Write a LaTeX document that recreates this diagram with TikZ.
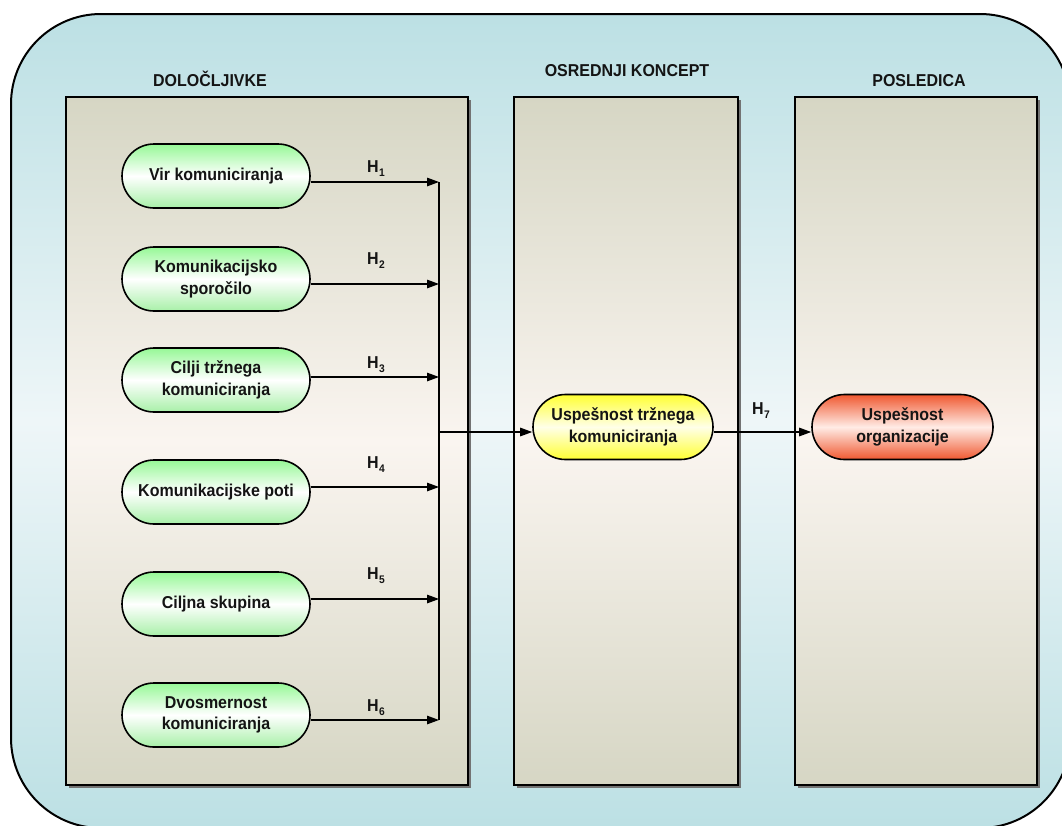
\documentclass[tikz,border=0pt]{standalone}
\usepackage{fontspec}
\setmainfont{Liberation Sans}[FakeStretch=0.93]
\usetikzlibrary{arrows.meta,shapes.misc}

\definecolor{outerEdge}{RGB}{188,224,228}
\definecolor{outerMid}{RGB}{238,246,248}
\definecolor{panelEdge}{RGB}{214,214,196}
\definecolor{panelMid}{RGB}{250,245,240}
\definecolor{greenEdge}{RGB}{150,248,150}
\definecolor{greenLow}{RGB}{168,240,168}
\definecolor{yellowEdge}{RGB}{255,255,50}
\definecolor{yellowMid}{RGB}{255,255,232}
\definecolor{redEdge}{RGB}{240,88,48}
\definecolor{redMid}{RGB}{255,236,230}
\definecolor{ink}{RGB}{20,20,20}

\newcommand\hsub[1]{\kern0.3pt\raisebox{-4pt}{\fontsize{11}{11}\selectfont #1}}

\tikzset{
  panelbox/.style={draw=black, line width=1.6, top color=panelEdge, bottom color=panelEdge, middle color=panelMid},
  panelshadow/.style={fill=black!55},
  pill/.style={rounded rectangle, draw=black, line width=1.6, inner sep=0pt,
    align=center, text=ink, font=\bfseries\fontsize{17.2}{21.5}\selectfont},
  greenpill/.style={pill, minimum width=188pt, minimum height=64pt,
    top color=greenEdge, bottom color=greenLow, middle color=white},
  yellowpill/.style={pill, minimum width=180pt, minimum height=65pt,
    top color=yellowEdge, bottom color=yellowEdge, middle color=yellowMid},
  redpill/.style={pill, minimum width=181pt, minimum height=65pt,
    top color=redEdge, bottom color=redEdge, middle color=redMid},
  header/.style={anchor=base, text=ink, inner sep=0pt, font=\bfseries\fontsize{17.2}{17.2}\selectfont},
  hlabel/.style={anchor=base west, text=ink, inner sep=0pt, font=\bfseries\fontsize{17.2}{17.2}\selectfont},
  arr/.style={line width=1.3, draw=black, -{Triangle[length=12pt,width=8.5pt]}},
  bus/.style={line width=1.3, draw=black}
}

\begin{document}
\begin{tikzpicture}[x=1pt,y=-1pt]
\useasboundingbox (0,0) rectangle (1062,825);

% outer rounded frame, running off the right and bottom edges
\begin{scope}
  \clip (0,0) rectangle (1062,825);
  \path[draw=black, line width=2, rounded corners=90,
        top color=outerEdge, bottom color=outerEdge, middle color=outerMid]
        (11,14) rectangle (1070,828);
\end{scope}

% three column panels with a small drop shadow
\fill[panelshadow] (68.5,99.5) rectangle (470.5,787.5);
\fill[panelshadow] (516.5,99.5) rectangle (740.5,787.5);
\fill[panelshadow] (797.5,99.5) rectangle (1039.5,787.5);
\path[panelbox] (66,97) rectangle (468,785);
\path[panelbox] (514,97) rectangle (738,785);
\path[panelbox] (795,97) rectangle (1037,785);

% column headers
\node[header] (hd1) at (210,86) {DOLOČLJIVKE};
\node[header] (hd2) at (627,76) {OSREDNJI KONCEPT};
\node[header] (hd3) at (919,86) {POSLEDICA};

% determinants
\node[greenpill] (p1) at (216,176) {Vir komuniciranja};
\node[greenpill] (p2) at (216,279) {Komunikacijsko\\sporočilo};
\node[greenpill] (p3) at (216,380) {Cilji tržnega\\komuniciranja};
\node[greenpill] (p4) at (216,492) {Komunikacijske poti};
\node[greenpill] (p5) at (216,604) {Ciljna skupina};
\node[greenpill] (p6) at (216,715) {Dvosmernost\\komuniciranja};

% central concept and consequence
\node[yellowpill] (mid) at (623,427) {Uspešnost tržnega\\komuniciranja};
\node[redpill] (res) at (902.5,427) {Uspešnost\\organizacije};

% junction points on the collecting line
\coordinate (j1) at (439,182);
\coordinate (j2) at (439,284);
\coordinate (j3) at (439,377);
\coordinate (j4) at (439,487);
\coordinate (j5) at (439,599);
\coordinate (j6) at (439,720);
\coordinate (jm) at (439,432);

\draw[bus] (j1) -- (j6);
\draw[arr] (p1.east |- j1) -- (j1);
\draw[arr] (p2.east |- j2) -- (j2);
\draw[arr] (p3.east |- j3) -- (j3);
\draw[arr] (p4.east |- j4) -- (j4);
\draw[arr] (p5.east |- j5) -- (j5);
\draw[arr] (p6.east |- j6) -- (j6);
\draw[arr] (jm) -- (mid.west |- jm);
\draw[arr] (mid.east |- jm) -- (res.west |- jm);

% hypothesis labels
\node[hlabel] (h1) at (367,172) {H\hsub{1}};
\node[hlabel] (h2) at (367,264) {H\hsub{2}};
\node[hlabel] (h3) at (367,368) {H\hsub{3}};
\node[hlabel] (h4) at (367,468) {H\hsub{4}};
\node[hlabel] (h5) at (367,579) {H\hsub{5}};
\node[hlabel] (h6) at (367,711) {H\hsub{6}};
\node[hlabel] (h7) at (752,414) {H\hsub{7}};
\end{tikzpicture}
\end{document}
